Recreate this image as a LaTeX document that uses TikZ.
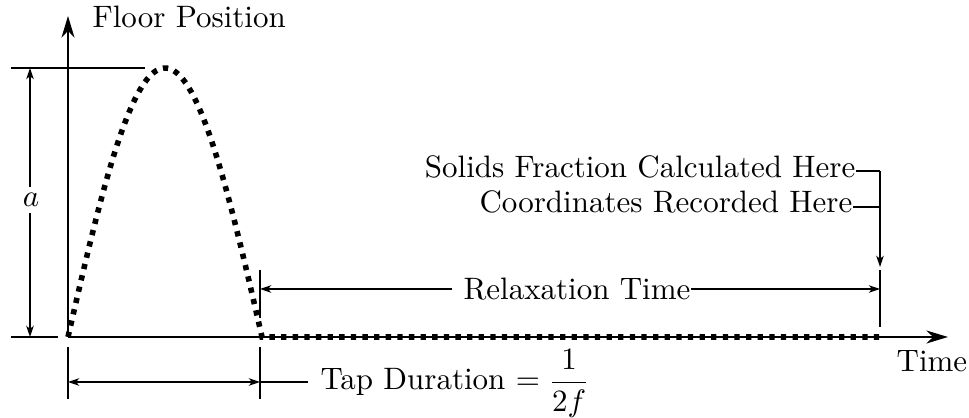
\documentclass[tikz,border=0pt]{standalone}
\usetikzlibrary{arrows.meta}
\begin{document}
\begin{tikzpicture}[x=0.3226pt,y=-0.3226pt,
  >={Stealth[length=3.6pt,width=2.4pt,inset=1pt]},
  axis/.style={line width=0.65pt,-{Stealth[length=7pt,width=4.2pt,inset=2.2pt]}},
  dim/.style={line width=0.5pt},
  floorcurve/.style={line width=1.8pt,dash pattern=on 1.7pt off 2.05pt},
  lab/.style={inner sep=0pt}]
\useasboundingbox (0,0) rectangle (969,418);
% key points
\coordinate (O) at (68,337);
\coordinate (E) at (260,337);
\coordinate (R) at (880,337);
% axes
\coordinate (ytip) at (68,16);
\coordinate (xtip) at (948,337);
\draw[axis] (O) -- (ytip);
\draw[axis] (O) -- (xtip);
\node[lab,anchor=base west] (ylab) at (92,28) {Floor Position};
\node[lab,anchor=base west] (xlab) at (896,372) {Time};
% floor motion
\draw[floorcurve] plot[domain=0:180,samples=80] ({68+1.0778*\x},{337-269*sin(\x)}) -- (R);
% amplitude dimension
\coordinate (top1) at (11,68);
\coordinate (top2) at (145,68);
\coordinate (bot1) at (11,337);
\coordinate (bot2) at (58,337);
\draw[dim] (top1) -- (top2);
\draw[dim] (bot1) -- (bot2);
\coordinate (a1) at (30,68);
\coordinate (a2) at (30,337);
\draw[dim,<->] (a1) -- (a2);
\node[fill=white,inner sep=2pt] (alab) at (31,200) {$a$};
% tap duration
\coordinate (t1a) at (68,347);
\coordinate (t1b) at (68,399);
\coordinate (t2a) at (260,347);
\coordinate (t2b) at (260,399);
\draw[dim] (t1a) -- (t1b);
\draw[dim] (t2a) -- (t2b);
\coordinate (td1) at (68,382);
\coordinate (td2) at (260,382);
\coordinate (td3) at (308,382);
\draw[dim,<->] (td1) -- (td2);
\draw[dim] (td2) -- (td3);
\node[lab,anchor=base west] (tap) at (320,390) {Tap Duration $\displaystyle=\frac{1}{2f}$};
% relaxation time
\coordinate (r1a) at (260,270);
\coordinate (r1b) at (260,318);
\coordinate (r2a) at (880,270);
\coordinate (r2b) at (880,327);
\draw[dim] (r1a) -- (r1b);
\draw[dim] (r2a) -- (r2b);
\coordinate (rl) at (260,289);
\coordinate (rr) at (880,289);
\node[lab] (relax) at (577,289) {Relaxation Time};
\coordinate (rlt) at (452,289);
\draw[dim,->] (rlt) -- (rl);
\draw[dim,->] (relax.east) -- (rr);
% recording labels
\node[lab,anchor=base east] (solids) at (856,178) {Solids Fraction Calculated Here};
\node[lab,anchor=base east] (coords) at (853,213) {Coordinates Recorded Here};
\coordinate (c1) at (880,171);
\coordinate (c2) at (880,207);
\coordinate (c3) at (880,267);
\draw[dim] (solids.east |- c1) -- (c1);
\draw[dim,->] (c1) -- (c3);
\draw[dim] (coords.east |- c2) -- (c2);
\end{tikzpicture}
\end{document}
